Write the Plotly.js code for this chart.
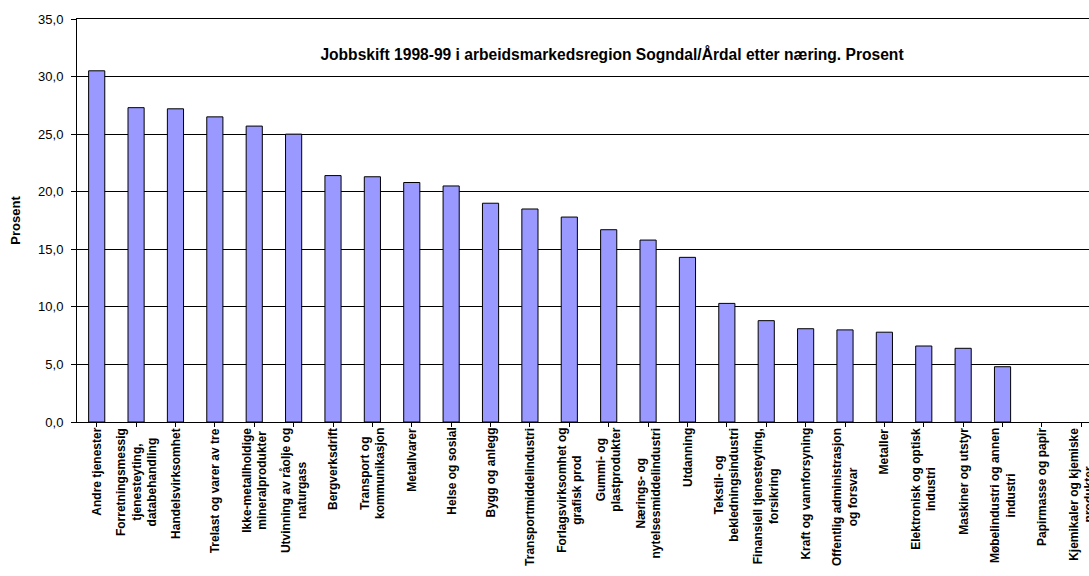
<!DOCTYPE html>
<html>
<head>
<meta charset="utf-8">
<script src="https://cdn.plot.ly/plotly-3.0.1.min.js"></script>
<style>
html,body{margin:0;padding:0;overflow:hidden;background:#fff;}
#chart{width:1110px;height:576px;}
</style>
</head>
<body>
<div id="chart"></div>
<script>
var categories = [
  "Andre tjenester",
  "Forretningsmessig<br>tjenesteyting,<br>databehandling",
  "Handelsvirksomhet",
  "Trelast og varer av tre",
  "Ikke-metallholdige<br>mineralprodukter",
  "Utvinning av råolje og<br>naturgass",
  "Bergverksdrift",
  "Transport og<br>kommunikasjon",
  "Metallvarer",
  "Helse og sosial",
  "Bygg og anlegg",
  "Transportmiddelindustri",
  "Forlagsvirksomhet og<br>grafisk prod",
  "Gummi- og<br>plastprodukter",
  "Nærings- og<br>nytelsesmiddelindustri",
  "Utdanning",
  "Tekstil- og<br>bekledningsindustri",
  "Finansiell tjenesteyting,<br>forsikring",
  "Kraft og vannforsyning",
  "Offentlig administrasjon<br>og forsvar",
  "Metaller",
  "Elektronisk og optisk<br>industri",
  "Maskiner og utstyr",
  "Møbelindustri og annen<br>industri",
  "Papirmasse og papir",
  "Kjemikaler og kjemiske<br>produkter"
];
var values = [30.5, 27.3, 27.2, 26.5, 25.7, 25.0, 21.4, 21.3, 20.8, 20.5, 19.0, 18.5, 17.8, 16.7, 15.8, 14.3, 10.3, 8.8, 8.1, 8.0, 7.8, 6.6, 6.4, 4.8, 0, 0];
var yTicks = [0, 5, 10, 15, 20, 25, 30, 35];
var chartTitle = "Jobbskift 1998-99 i arbeidsmarkedsregion Sogndal/Årdal etter næring. Prosent";
var yTitle = "Prosent";

var FONT = 'Liberation Sans, Arial, sans-serif';
var xIdx = categories.map(function(_, i){ return i; });

var labelAnnotations = categories.map(function(c, i){
  return {
    xref: 'x', yref: 'paper', x: i, y: 0,
    text: '<b>' + c + '</b>', showarrow: false, textangle: -90,
    xanchor: 'center', yanchor: 'top', align: 'center',
    yshift: -4,
    font: {family: FONT, size: 12, color: '#000'}
  };
});

var trace = {
  type: 'bar',
  x: xIdx,
  y: values,
  marker: {
    color: '#9999FF',
    line: {color: '#000', width: values.map(function(v){ return v > 0 ? 1 : 0; })}
  },
  hoverinfo: 'y'
};

var layout = {
  width: 1110, height: 576,
  margin: {l: 77, r: 9, t: 19, b: 154},
  paper_bgcolor: '#fff', plot_bgcolor: '#fff',
  separators: ', ',
  showlegend: false,
  bargap: 0.59,
  font: {family: FONT, color: '#000'},
  title: {
    text: '<b>' + chartTitle + '</b>',
    font: {family: FONT, size: 15.6, color: '#000'},
    xref: 'container', x: 612/1110, xanchor: 'center',
    yref: 'container', y: 1 - 55/576, yanchor: 'middle'
  },
  xaxis: {
    range: [-0.5, 25.5],
    tickmode: 'array', tickvals: xIdx, ticktext: categories,
    showticklabels: false,
    ticks: 'outside', tickson: 'boundaries', ticklen: 4, tickcolor: '#000', tickwidth: 1,
    showline: true, linecolor: '#000', linewidth: 1, mirror: true,
    showgrid: false, zeroline: false, fixedrange: true
  },
  yaxis: {
    range: [0, 35],
    tickmode: 'array', tickvals: yTicks,
    tickformat: '.1f',
    ticks: 'outside', ticklen: 5, tickcolor: '#000', tickwidth: 1,
    ticklabelstandoff: 5,
    tickfont: {family: FONT, size: 13, color: '#000'},
    showline: true, linecolor: '#000', linewidth: 1,
    showgrid: true, gridcolor: '#000', gridwidth: 1,
    zeroline: false, fixedrange: true,
    title: {text: '<b>' + yTitle + '</b>', standoff: 14,
      font: {family: FONT, size: 13, color: '#000'}}
  },
  annotations: labelAnnotations
};

Plotly.newPlot('chart', [trace], layout, {displayModeBar: false, staticPlot: true});
</script>
</body>
</html>
